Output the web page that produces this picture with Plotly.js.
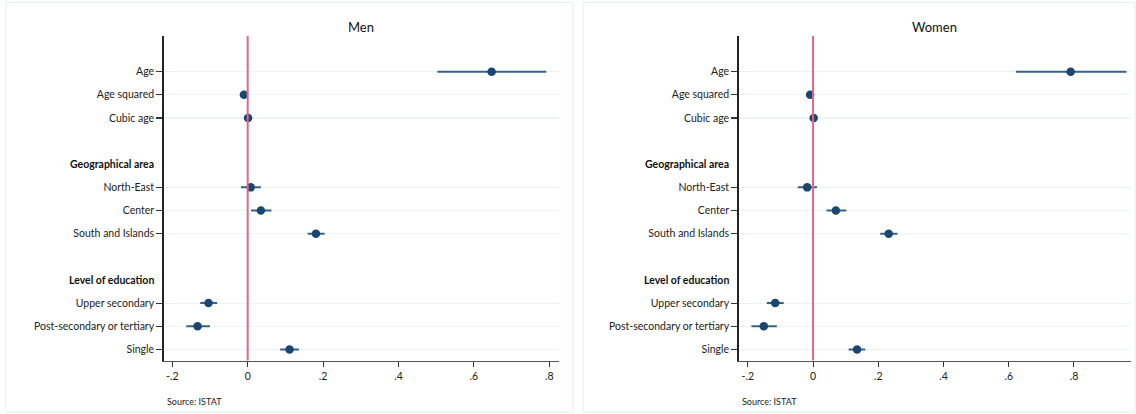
<!DOCTYPE html>
<html>
<head>
<meta charset="utf-8">
<script src="https://cdn.plot.ly/plotly-3.0.1.min.js"></script>
<style>
  html, body { margin: 0; padding: 0; background: #ffffff; }
  #chart { width: 1136px; height: 414px; }
</style>
</head>
<body>
<div id="chart"></div>
<script>
// Row layout of the coefficient plot: '' = spacer row, headers are drawn in bold without a tick
const rowLabels = ['Age', 'Age squared', 'Cubic age', '',
  'Geographical area', 'North-East', 'Center', 'South and Islands', '',
  'Level of education', 'Upper secondary', 'Post-secondary or tertiary', 'Single'];
const headerLabels = ['Geographical area', 'Level of education'];
const coefLabels = ['Age', 'Age squared', 'Cubic age', 'North-East', 'Center',
  'South and Islands', 'Upper secondary', 'Post-secondary or tertiary', 'Single'];

// Men: point estimates and 95% confidence bounds
const menCoef = [0.647, -0.010, 0.001, 0.008, 0.035, 0.181, -0.104, -0.133, 0.111];
const menLow  = [0.503, -0.013, -0.001, -0.018, 0.009, 0.159, -0.126, -0.163, 0.086];
const menHigh = [0.792, -0.007, 0.003, 0.035, 0.063, 0.204, -0.081, -0.100, 0.136];

// Women: point estimates and 95% confidence bounds
const womenCoef = [0.790, -0.009, 0.002, -0.018, 0.070, 0.232, -0.116, -0.151, 0.135];
const womenLow  = [0.622, -0.012, 0.000, -0.047, 0.041, 0.206, -0.142, -0.189, 0.109];
const womenHigh = [0.961, -0.006, 0.004, 0.012, 0.102, 0.259, -0.090, -0.111, 0.160];

const xTickVals = [-0.2, 0, 0.2, 0.4, 0.6, 0.8];
const xTickText = ['-.2', '0', '.2', '.4', '.6', '.8'];

const panelTitles = ['Men', 'Women'];
const sourceNote = 'Source: ISTAT';

const W = 1136, H = 414;
const FONT = 'Lato, "Open Sans", sans-serif';
const NAVY = '#1a476f';
const CI_COLOR = '#34618c';

const rowPos = label => rowLabels.indexOf(label) + 1;
const coefPos = coefLabels.map(rowPos);

function ciTrace(coef, low, high, xa, ya) {
  return {
    type: 'scatter', mode: 'markers',
    x: coef, y: coefPos, xaxis: xa, yaxis: ya,
    marker: { color: NAVY, size: 8.5 },
    error_x: {
      type: 'data', symmetric: false,
      array: high.map((h, i) => h - coef[i]),
      arrayminus: low.map((l, i) => coef[i] - l),
      color: CI_COLOR, thickness: 2, width: 0
    },
    hoverinfo: 'x+y', showlegend: false
  };
}

const data = [
  ciTrace(menCoef, menLow, menHigh, 'x', 'y'),
  ciTrace(womenCoef, womenLow, womenHigh, 'x2', 'y2')
];

const px = v => v / W;
const py = v => 1 - v / H;

const yDomain = [py(360.5), py(36)];
const yRange = [13.48, -0.54];

function xAxis(domain, range, anchor) {
  return {
    domain: domain, range: range, anchor: anchor,
    tickvals: xTickVals, ticktext: xTickText,
    ticks: 'outside', ticklen: 5, tickwidth: 1, tickcolor: '#333333',
    showgrid: false, zeroline: false,
    showline: true, linecolor: '#555555', linewidth: 1.5,
    tickfont: { family: FONT, size: 10.5, color: '#222222' },
    fixedrange: true
  };
}
function yAxis(anchor) {
  return {
    domain: yDomain, range: yRange, anchor: anchor,
    tickvals: coefPos, ticktext: coefLabels,
    ticks: 'outside', ticklen: 6, tickwidth: 1.2, tickcolor: '#333333',
    showgrid: true, gridcolor: '#edf2f4', gridwidth: 1.2,
    zeroline: false, showline: true, linecolor: '#222222', linewidth: 1.5,
    tickfont: { family: FONT, size: 10.5, color: '#222222' },
    fixedrange: true
  };
}

const panels = [
  { xd: [px(163.7), px(558.7)], xr: [-0.2228, 0.825], box: [6, 573], xa: 'x', ya: 'y' },
  { xd: [px(738.7), px(1131)], xr: [-0.228, 0.975], box: [583, 1135], xa: 'x2', ya: 'y2' }
];

const shapes = [];
const annotations = [];
panels.forEach((p, i) => {
  // panel frame
  shapes.push({
    type: 'rect', xref: 'paper', yref: 'paper',
    x0: px(p.box[0]), x1: px(p.box[1]), y0: py(412), y1: py(2.5),
    line: { color: '#e3ecee', width: 1 }, fillcolor: 'rgba(0,0,0,0)', layer: 'below'
  });
  // reference line at zero
  shapes.push({
    type: 'line', xref: p.xa, yref: p.ya + ' domain',
    x0: 0, x1: 0, y0: 0, y1: 1,
    line: { color: '#e0668a', width: 2 }
  });
  annotations.push({
    text: panelTitles[i], xref: 'paper', yref: 'paper',
    x: (p.xd[0] + p.xd[1]) / 2, y: py(27), xanchor: 'center', yanchor: 'middle',
    showarrow: false, font: { family: FONT, size: 13, color: '#111111' }
  });
  annotations.push({
    text: sourceNote, xref: 'paper', yref: 'paper',
    x: p.xd[0], y: py(401), xanchor: 'left', yanchor: 'middle', xshift: 1,
    showarrow: false, font: { family: FONT, size: 9, color: '#222222' }
  });
  headerLabels.forEach(h => {
    annotations.push({
      text: '<b>' + h + '</b>', xref: p.xa + ' domain', yref: p.ya,
      x: 0, y: rowPos(h), xanchor: 'right', yanchor: 'middle', xshift: -8,
      showarrow: false, font: { family: FONT, size: 10.5, color: '#111111' }
    });
  });
});

const layout = {
  width: W, height: H,
  margin: { l: 0, r: 0, t: 0, b: 0 },
  paper_bgcolor: '#ffffff', plot_bgcolor: '#ffffff',
  showlegend: false,
  xaxis: xAxis(panels[0].xd, panels[0].xr, 'y'),
  yaxis: yAxis('x'),
  xaxis2: xAxis(panels[1].xd, panels[1].xr, 'y2'),
  yaxis2: yAxis('x2'),
  shapes: shapes,
  annotations: annotations
};

Plotly.newPlot('chart', data, layout, { displayModeBar: false, staticPlot: true });
</script>
</body>
</html>
